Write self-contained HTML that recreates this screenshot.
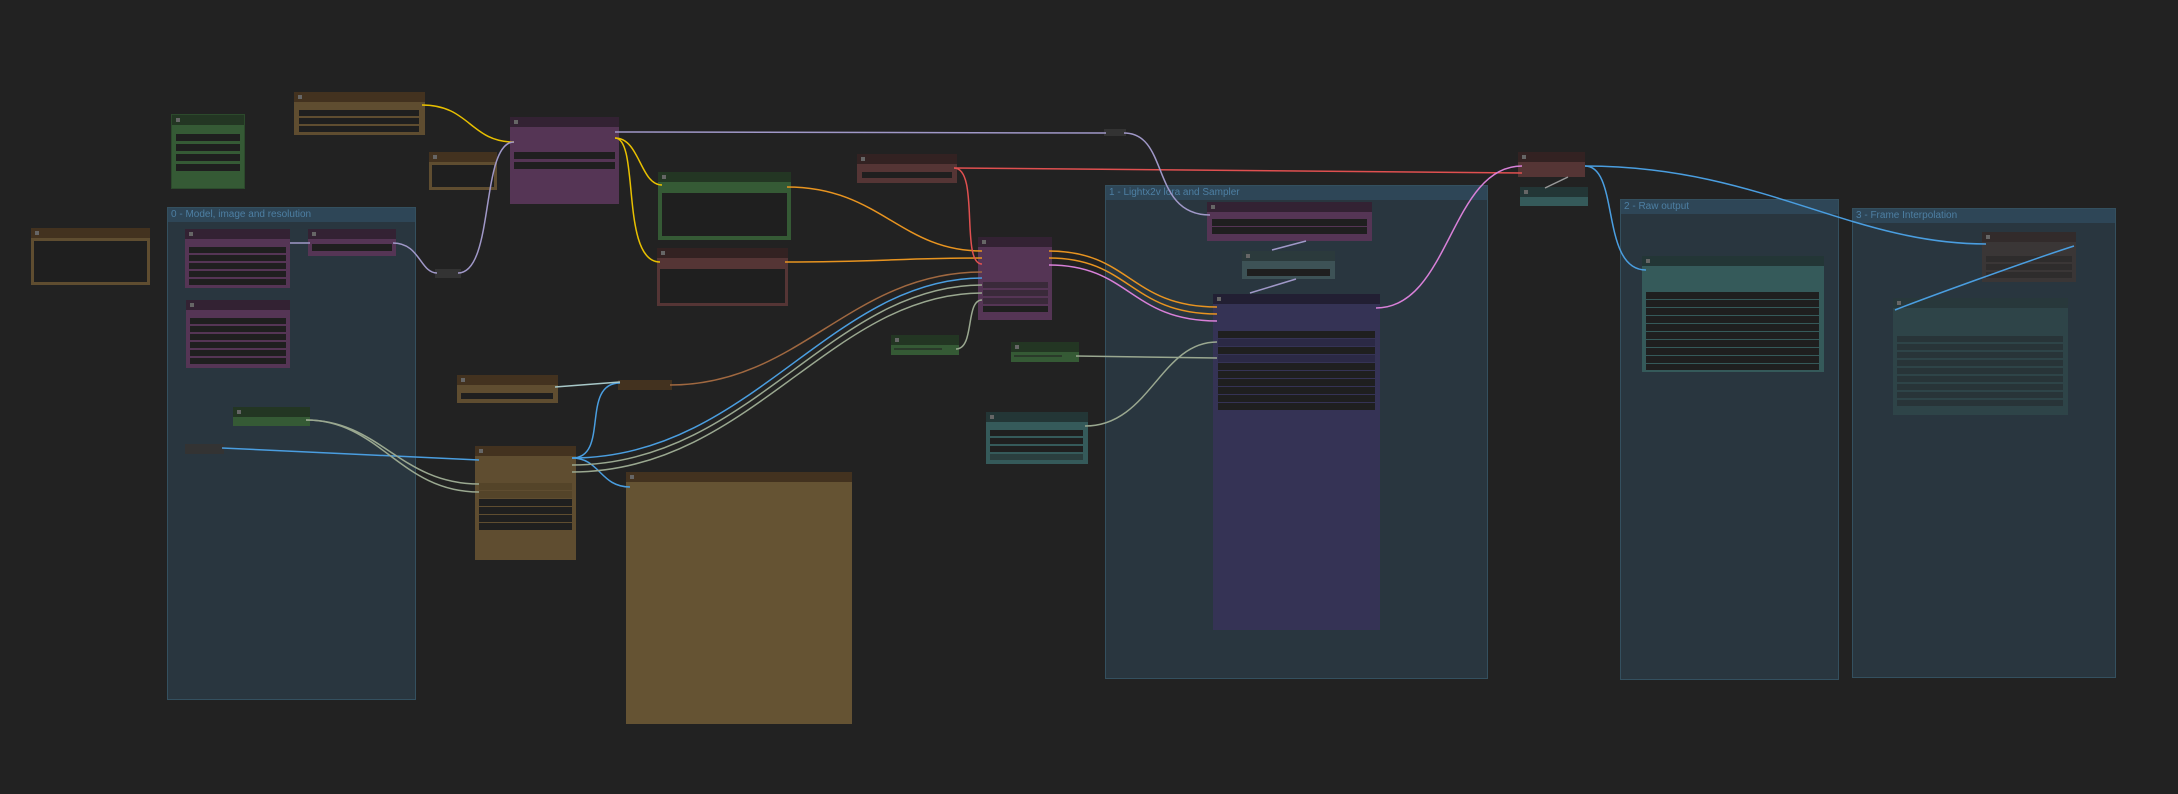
<!DOCTYPE html>
<html><head><meta charset="utf-8"><style>
html,body{margin:0;padding:0}
body{width:2178px;height:794px;background:#222222;position:relative;overflow:hidden;font-family:"Liberation Sans",sans-serif}
.g{position:absolute;background:#29363f;border:1px solid #34505f;box-sizing:border-box}
.g .gt{height:14px;background:#2e4657;color:#4d7fa3;font-size:10px;line-height:14px;padding-left:3px;white-space:nowrap}
.n{position:absolute;box-sizing:border-box}
.n .t{height:10px;position:relative}
.n .t:before{content:"";position:absolute;left:4px;top:3px;width:4px;height:4px;background:#666}
.w{position:absolute;background:#1f1f1f}
.d{position:absolute;width:4px;height:4px}
svg{position:absolute;left:0;top:0}
</style></head><body>

<!-- groups -->
<div class="g" style="left:167px;top:207px;width:249px;height:493px"><div class="gt">0 - Model, image and resolution</div></div>
<div class="g" style="left:1105px;top:185px;width:383px;height:494px"><div class="gt">1 - Lightx2v lora and Sampler</div></div>
<div class="g" style="left:1620px;top:199px;width:219px;height:481px"><div class="gt">2 - Raw output</div></div>
<div class="g" style="left:1852px;top:208px;width:264px;height:470px"><div class="gt">3 - Frame Interpolation</div></div>

<!-- green top-left -->
<div class="n" style="left:171px;top:114px;width:74px;height:75px;background:#355a35;border:1px solid #2c4a2c"><div class="t" style="background:#233623"></div>
<div class="w" style="left:4px;top:19px;width:64px;height:7px"></div><div class="w" style="left:4px;top:29px;width:64px;height:7px"></div><div class="w" style="left:4px;top:39px;width:64px;height:7px"></div><div class="w" style="left:4px;top:49px;width:64px;height:7px"></div></div>

<!-- brown top -->
<div class="n" style="left:294px;top:92px;width:131px;height:43px;background:#5f4d30"><div class="t" style="background:#43321f;height:10px"></div>
<div class="w" style="left:5px;top:18px;width:120px;height:6px"></div><div class="w" style="left:5px;top:26px;width:120px;height:6px"></div><div class="w" style="left:5px;top:34px;width:120px;height:6px"></div></div>

<!-- brown left -->
<div class="n" style="left:31px;top:228px;width:119px;height:57px;background:#5f4d30"><div class="t" style="background:#43321f"></div>
<div class="w" style="left:3px;top:13px;width:113px;height:41px"></div></div>

<!-- small brown -->
<div class="n" style="left:429px;top:152px;width:68px;height:38px;background:#5f4d30"><div class="t" style="background:#43321f"></div>
<div class="w" style="left:3px;top:13px;width:62px;height:22px"></div></div>

<!-- purple big top -->
<div class="n" style="left:510px;top:117px;width:109px;height:87px;background:#553555"><div class="t" style="background:#332233"></div>
<div class="w" style="left:4px;top:35px;width:101px;height:7px"></div><div class="w" style="left:4px;top:45px;width:101px;height:7px"></div></div>

<!-- green -->
<div class="n" style="left:658px;top:172px;width:133px;height:68px;background:#355a35"><div class="t" style="background:#233623"></div>
<div class="w" style="left:4px;top:21px;width:125px;height:43px"></div></div>

<!-- red-brown -->
<div class="n" style="left:657px;top:248px;width:131px;height:58px;background:#553535"><div class="t" style="background:#332222"></div>
<div class="w" style="left:3px;top:21px;width:125px;height:34px"></div></div>

<!-- red small -->
<div class="n" style="left:857px;top:154px;width:100px;height:29px;background:#553535"><div class="t" style="background:#332222"></div>
<div class="w" style="left:5px;top:18px;width:90px;height:6px"></div></div>

<!-- purple mid -->
<div class="n" style="left:978px;top:237px;width:74px;height:83px;background:#553555"><div class="t" style="background:#332233"></div>
<div class="w" style="left:5px;top:45px;width:65px;height:6px;background:#3a2a3a"></div><div class="w" style="left:5px;top:53px;width:65px;height:6px;background:#3a2a3a"></div><div class="w" style="left:5px;top:61px;width:65px;height:6px;background:#3a2a3a"></div><div class="w" style="left:5px;top:69px;width:65px;height:6px"></div></div>

<!-- green sliders -->
<div class="n" style="left:891px;top:335px;width:68px;height:20px;background:#355a35"><div class="t" style="background:#233623"></div><div class="w" style="left:3px;top:13px;width:48px;height:2px;background:#2a3a2a"></div></div>
<div class="n" style="left:1011px;top:342px;width:68px;height:20px;background:#355a35"><div class="t" style="background:#233623"></div><div class="w" style="left:3px;top:13px;width:48px;height:2px;background:#2a3a2a"></div></div>

<!-- teal -->
<div class="n" style="left:986px;top:412px;width:102px;height:52px;background:#355a5a"><div class="t" style="background:#233636"></div>
<div class="w" style="left:4px;top:18px;width:93px;height:6px"></div><div class="w" style="left:4px;top:26px;width:93px;height:6px"></div><div class="w" style="left:4px;top:34px;width:93px;height:6px"></div><div class="w" style="left:4px;top:42px;width:93px;height:6px;background:#2a3e3e"></div></div>

<!-- brown small lower -->
<div class="n" style="left:457px;top:375px;width:101px;height:28px;background:#5f4d30"><div class="t" style="background:#43321f"></div>
<div class="w" style="left:4px;top:18px;width:92px;height:6px"></div></div>
<div class="n" style="left:618px;top:380px;width:54px;height:10px;background:#43321f"></div>

<!-- brown node lower -->
<div class="n" style="left:475px;top:446px;width:101px;height:114px;background:#5f4d30"><div class="t" style="background:#43321f"></div>
<div class="w" style="left:4px;top:37px;width:93px;height:7px;background:#544429"></div><div class="w" style="left:4px;top:45px;width:93px;height:7px;background:#544429"></div><div class="w" style="left:4px;top:53px;width:93px;height:7px"></div><div class="w" style="left:4px;top:61px;width:93px;height:7px"></div><div class="w" style="left:4px;top:69px;width:93px;height:7px"></div><div class="w" style="left:4px;top:77px;width:93px;height:7px"></div></div>

<!-- big preview -->
<div class="n" style="left:626px;top:472px;width:226px;height:252px;background:#655333"><div class="t" style="background:#43321f"></div></div>

<!-- group0 nodes -->
<div class="n" style="left:185px;top:229px;width:105px;height:59px;background:#553555"><div class="t" style="background:#332233"></div>
<div class="w" style="left:4px;top:18px;width:97px;height:6px"></div><div class="w" style="left:4px;top:26px;width:97px;height:6px"></div><div class="w" style="left:4px;top:34px;width:97px;height:6px"></div><div class="w" style="left:4px;top:42px;width:97px;height:6px"></div><div class="w" style="left:4px;top:50px;width:97px;height:6px"></div></div>
<div class="n" style="left:308px;top:229px;width:88px;height:27px;background:#553555"><div class="t" style="background:#332233"></div>
<div class="w" style="left:4px;top:15px;width:80px;height:7px"></div></div>
<div class="n" style="left:186px;top:300px;width:104px;height:68px;background:#553555"><div class="t" style="background:#332233"></div>
<div class="w" style="left:4px;top:18px;width:96px;height:6px"></div><div class="w" style="left:4px;top:26px;width:96px;height:6px"></div><div class="w" style="left:4px;top:34px;width:96px;height:6px"></div><div class="w" style="left:4px;top:42px;width:96px;height:6px"></div><div class="w" style="left:4px;top:50px;width:96px;height:6px"></div><div class="w" style="left:4px;top:58px;width:96px;height:6px"></div></div>
<div class="n" style="left:233px;top:407px;width:77px;height:19px;background:#355a35"><div class="t" style="background:#233623"></div></div>
<div class="n" style="left:185px;top:444px;width:39px;height:10px;background:#333"></div>
<div class="n" style="left:435px;top:269px;width:26px;height:9px;background:#333"></div>
<div class="n" style="left:1104px;top:129px;width:22px;height:7px;background:#333"></div>

<!-- group1 nodes -->
<div class="n" style="left:1207px;top:202px;width:165px;height:39px;background:#553555"><div class="t" style="background:#332233"></div>
<div class="w" style="left:5px;top:17px;width:155px;height:7px"></div><div class="w" style="left:5px;top:25px;width:155px;height:7px"></div></div>
<div class="n" style="left:1242px;top:251px;width:93px;height:28px;background:#3d5256"><div class="t" style="background:#2b3a3c"></div>
<div class="w" style="left:5px;top:18px;width:83px;height:7px"></div></div>
<div class="n" style="left:1213px;top:294px;width:167px;height:336px;background:#353355"><div class="t" style="background:#221f33"></div>
<div class="w" style="left:5px;top:37px;width:157px;height:7px"></div><div class="w" style="left:5px;top:45px;width:157px;height:7px;background:#2b2945"></div><div class="w" style="left:5px;top:53px;width:157px;height:7px"></div><div class="w" style="left:5px;top:61px;width:157px;height:7px;background:#2b2945"></div><div class="w" style="left:5px;top:69px;width:157px;height:7px"></div><div class="w" style="left:5px;top:77px;width:157px;height:7px"></div><div class="w" style="left:5px;top:85px;width:157px;height:7px"></div><div class="w" style="left:5px;top:93px;width:157px;height:7px"></div><div class="w" style="left:5px;top:101px;width:157px;height:7px"></div><div class="w" style="left:5px;top:109px;width:157px;height:7px"></div></div>

<!-- red + teal small -->
<div class="n" style="left:1518px;top:152px;width:67px;height:25px;background:#553535"><div class="t" style="background:#332222"></div></div>
<div class="n" style="left:1520px;top:187px;width:68px;height:19px;background:#355a5a"><div class="t" style="background:#233636"></div></div>

<!-- group2 node -->
<div class="n" style="left:1642px;top:256px;width:182px;height:116px;background:#355a5a"><div class="t" style="background:#233636"></div>
<div class="w" style="left:4px;top:36px;width:173px;height:7px"></div><div class="w" style="left:4px;top:44px;width:173px;height:7px"></div><div class="w" style="left:4px;top:52px;width:173px;height:7px"></div><div class="w" style="left:4px;top:60px;width:173px;height:7px"></div><div class="w" style="left:4px;top:68px;width:173px;height:7px"></div><div class="w" style="left:4px;top:76px;width:173px;height:7px"></div><div class="w" style="left:4px;top:84px;width:173px;height:7px"></div><div class="w" style="left:4px;top:92px;width:173px;height:7px"></div><div class="w" style="left:4px;top:100px;width:173px;height:7px"></div><div class="w" style="left:4px;top:108px;width:173px;height:6px"></div></div>

<!-- group3 nodes -->
<div class="n" style="left:1982px;top:232px;width:94px;height:50px;background:#3a3636"><div class="t" style="background:#322b2b"></div>
<div class="w" style="left:4px;top:24px;width:86px;height:6px;background:#2e2c2c"></div><div class="w" style="left:4px;top:32px;width:86px;height:6px;background:#2e2c2c"></div><div class="w" style="left:4px;top:40px;width:86px;height:6px;background:#2e2c2c"></div></div>
<div class="n" style="left:1893px;top:298px;width:175px;height:117px;background:#2e4448"><div class="t" style="background:#28383b"></div>
<div class="w" style="left:4px;top:38px;width:166px;height:6px;background:#283438"></div><div class="w" style="left:4px;top:46px;width:166px;height:6px;background:#283438"></div><div class="w" style="left:4px;top:54px;width:166px;height:6px;background:#283438"></div><div class="w" style="left:4px;top:62px;width:166px;height:6px;background:#283438"></div><div class="w" style="left:4px;top:70px;width:166px;height:6px;background:#283438"></div><div class="w" style="left:4px;top:78px;width:166px;height:6px;background:#283438"></div><div class="w" style="left:4px;top:86px;width:166px;height:6px;background:#283438"></div><div class="w" style="left:4px;top:94px;width:166px;height:6px;background:#283438"></div><div class="w" style="left:4px;top:102px;width:166px;height:6px;background:#283438"></div></div>

<svg width="2178" height="794" fill="none" stroke-width="1.5">
<!-- yellow -->
<path d="M422 105 C470 105,470 142,514 142" stroke="#e8c000"/>
<path d="M615 138 C640 138,640 185,662 185" stroke="#e8c000"/>
<path d="M615 138 C640 138,620 262,660 262" stroke="#e8c000"/>
<!-- orange -->
<path d="M787 187 C880 187,900 251,982 251" stroke="#e89420"/>
<path d="M785 262 C880 262,900 258,982 258" stroke="#e89420"/>
<path d="M1049 251 C1130 251,1130 307,1217 307" stroke="#e89420"/>
<path d="M1049 258 C1130 258,1130 314,1217 314" stroke="#e89420"/>
<path d="M1049 265 C1130 265,1130 321,1217 321" stroke="#d880d8"/>
<!-- red -->
<path d="M954 168 C980 168,960 264,982 264" stroke="#e05050"/>
<path d="M954 168 L1522 173" stroke="#e05050"/>
<!-- lavender -->
<path d="M615 132 L1106 133" stroke="#a098c8"/>
<path d="M1124 133 C1170 133,1150 215,1210 215" stroke="#a098c8"/>
<path d="M290 243 L310 243" stroke="#a098c8"/>
<path d="M393 243 C420 243,420 273,437 273" stroke="#a098c8"/>
<path d="M458 273 C495 273,480 142,514 142" stroke="#a098c8"/>
<!-- sampler to red node -->
<path d="M1376 308 C1450 308,1450 166,1522 166" stroke="#d880d8"/>
<!-- blue -->
<path d="M1585 166 C1620 166,1600 270,1646 270" stroke="#4a9ee0"/>
<path d="M1585 166 C1760 166,1850 244,1986 244" stroke="#4a9ee0"/>
<path d="M2074 246 C2030 260,1920 300,1895 310" stroke="#4a9ee0"/>
<path d="M222 448 L479 460" stroke="#4a9ee0"/>
<path d="M572 458 C610 458,580 383,620 383" stroke="#4a9ee0"/>
<path d="M572 458 C600 458,600 487,630 487" stroke="#4a9ee0"/>
<path d="M572 458 C750 458,830 278,982 278" stroke="#4a9ee0"/>
<!-- brown/orange -->
<path d="M670 385 C800 385,850 272,982 272" stroke="#a06840"/>
<!-- grey-green -->
<path d="M306 420 C380 420,400 484,479 484" stroke="#9aa890"/>
<path d="M306 420 C380 420,400 492,479 492" stroke="#9aa890"/>
<path d="M572 465 C750 465,830 285,982 285" stroke="#9aa890"/>
<path d="M572 472 C750 472,830 293,982 293" stroke="#9aa890"/>
<path d="M956 349 C975 349,965 300,982 300" stroke="#9aa890"/>
<path d="M1076 356 L1217 358" stroke="#9aa890"/>
<path d="M1085 426 C1150 426,1160 342,1217 342" stroke="#9aa890"/>
<path d="M555 387 L620 382" stroke="#a8c8c8"/>
<!-- short connector lines -->
<path d="M1306 241 L1272 250" stroke="#a098c8"/>
<path d="M1296 279 L1250 293" stroke="#a098c8"/>
<path d="M1568 177 L1545 188" stroke="#999"/>
</svg>
</body></html>
